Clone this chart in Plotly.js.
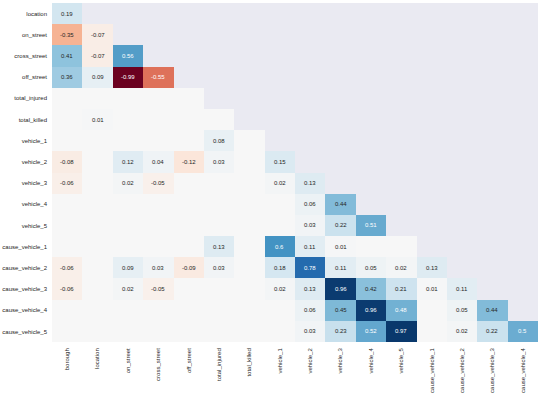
<!DOCTYPE html>
<html>
<head>
<meta charset="utf-8">
<script src="https://cdn.plot.ly/plotly-3.0.1.min.js"></script>
<style>html,body{margin:0;padding:0;background:#fff;}#chart{width:540px;height:395px;}</style>
</head>
<body>
<div id="chart"></div>
<script>
const xLabels = ["borough","location","on_street","cross_street","off_street","total_injured","total_killed","vehicle_1","vehicle_2","vehicle_3","vehicle_4","vehicle_5","cause_vehicle_1","cause_vehicle_2","cause_vehicle_3","cause_vehicle_4"];
const yLabels = ["location","on_street","cross_street","off_street","total_injured","total_killed","vehicle_1","vehicle_2","vehicle_3","vehicle_4","vehicle_5","cause_vehicle_1","cause_vehicle_2","cause_vehicle_3","cause_vehicle_4","cause_vehicle_5"];

// lower-triangle nullity correlations, row by row
const rowLocation      = [0.19];
const rowOnStreet      = [-0.35,-0.07];
const rowCrossStreet   = [0.41,-0.07,0.56];
const rowOffStreet     = [0.36,0.09,-0.99,-0.55];
const rowTotalInjured  = [0,0,0,0,0];
const rowTotalKilled   = [0,0.01,0,0,0,0];
const rowVehicle1      = [0,0,0,0,0,0.08,0];
const rowVehicle2      = [-0.08,0,0.12,0.04,-0.12,0.03,0,0.15];
const rowVehicle3      = [-0.06,0,0.02,-0.05,0,0,0,0.02,0.13];
const rowVehicle4      = [0,0,0,0,0,0,0,0,0.06,0.44];
const rowVehicle5      = [0,0,0,0,0,0,0,0,0.03,0.22,0.51];
const rowCause1        = [0,0,0,0,0,0.13,0,0.6,0.11,0.01,0,0];
const rowCause2        = [-0.06,0,0.09,0.03,-0.09,0.03,0,0.18,0.78,0.11,0.05,0.02,0.13];
const rowCause3        = [-0.06,0,0.02,-0.05,0,0,0,0.02,0.13,0.96,0.42,0.21,0.01,0.11];
const rowCause4        = [0,0,0,0,0,0,0,0,0.06,0.45,0.96,0.48,0,0.05,0.44];
const rowCause5        = [0,0,0,0,0,0,0,0,0.03,0.23,0.52,0.97,0,0.02,0.22,0.5];

const rows = [rowLocation,rowOnStreet,rowCrossStreet,rowOffStreet,rowTotalInjured,rowTotalKilled,rowVehicle1,rowVehicle2,rowVehicle3,rowVehicle4,rowVehicle5,rowCause1,rowCause2,rowCause3,rowCause4,rowCause5];

const z = rows.map(r => xLabels.map((_, j) => j < r.length ? r[j] : null));

const rdbu = [
  [0.0,'#67001f'],[0.1,'#b2182b'],[0.2,'#d6604d'],[0.3,'#f4a582'],[0.4,'#fddbc7'],
  [0.5,'#f7f7f7'],[0.6,'#d1e5f0'],[0.7,'#92c5de'],[0.8,'#4393c3'],[0.9,'#2166ac'],[1.0,'#053061']
];

function fmt(v){
  let s = v.toFixed(2);
  s = s.replace(/0+$/,'').replace(/\.$/,'');
  return s;
}

const annotations = [];
rows.forEach((r, i) => {
  r.forEach((v, j) => {
    if (v === 0) return;
    annotations.push({
      x: xLabels[j], y: yLabels[i], xref: 'x', yref: 'y',
      text: fmt(v), showarrow: false,
      font: {family: 'Liberation Sans, Arial, sans-serif', size: 6,
             color: Math.abs(v) >= 0.47 ? '#ffffff' : '#262626'}
    });
  });
});

const trace = {
  type: 'heatmap', x: xLabels, y: yLabels, z: z,
  colorscale: rdbu, zmin: -1, zmax: 1, showscale: false,
  hoverongaps: false, xgap: 0, ygap: 0
};

const layout = {
  width: 540, height: 395,
  margin: {l: 52, r: 2, t: 3, b: 53},
  paper_bgcolor: '#ffffff', plot_bgcolor: '#eaeaf2',
  font: {family: 'Liberation Sans, Arial, sans-serif', size: 6, color: '#262626'},
  xaxis: {type: 'category', showgrid: false, zeroline: false, showline: false, ticks: '',
          tickangle: -90, tickfont: {size: 6, color: '#262626'}, ticklabelstandoff: 4},
  yaxis: {type: 'category', autorange: 'reversed', showgrid: false, zeroline: false, showline: false,
          ticks: '', tickfont: {size: 6, color: '#262626'}, ticklabelstandoff: 4},
  annotations: annotations,
  showlegend: false
};

Plotly.newPlot('chart', [trace], layout, {displayModeBar: false, staticPlot: true});
</script>
</body>
</html>
